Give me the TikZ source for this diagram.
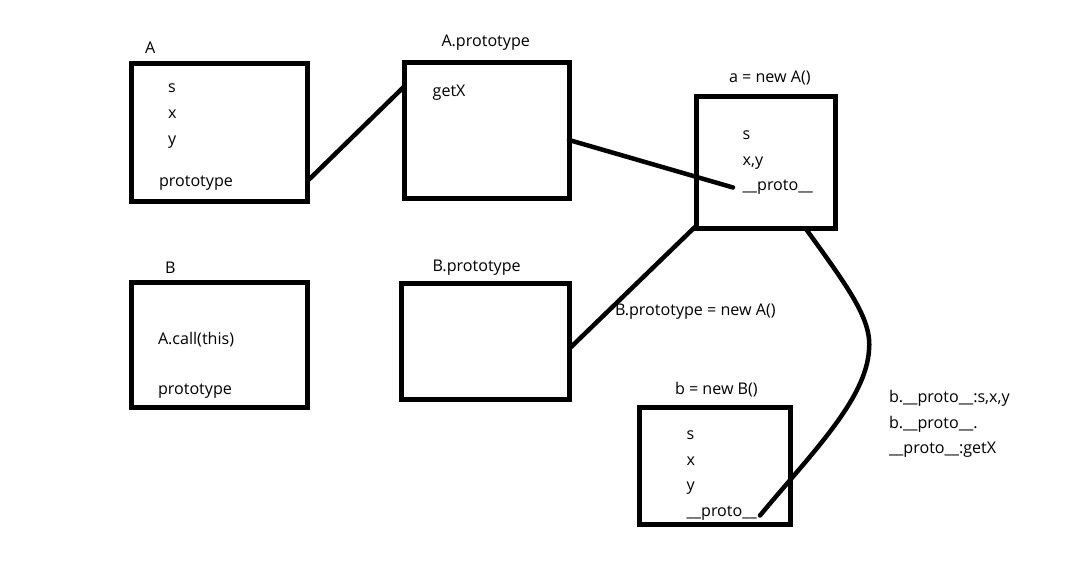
\documentclass[tikz,border=0pt]{standalone}
\usepackage{fontspec}
\setmainfont{Open Sans}
\usetikzlibrary{calc}
\begin{document}
\begin{tikzpicture}[x=1pt,y=-1pt,
  objbox/.style={draw=black,line width=5pt,rectangle,inner sep=0pt,outer sep=0pt,line join=miter},
  txt/.style={anchor=base west,inner sep=0pt,outer sep=0pt,font=\fontsize{16.1}{18}\selectfont},
  link/.style={line width=4.5pt,black}]
\path[use as bounding box,fill=white] (0,0) rectangle (1085,569);

% boxes
\node[objbox,minimum width=176.5pt,minimum height=138pt] (A) at (219.25,133) {};
\node[objbox,minimum width=164.3pt,minimum height=136.5pt] (Ap) at (486.85,130.75) {};
\node[objbox,minimum width=139pt,minimum height=132pt] (a) at (765.5,163) {};
\node[objbox,minimum width=175.8pt,minimum height=125pt] (B) at (219.6,345) {};
\node[objbox,minimum width=167.7pt,minimum height=116.7pt] (Bp) at (485.15,341.65) {};
\node[objbox,minimum width=151pt,minimum height=116.5pt] (b) at (714.5,465.75) {};

% titles
\node[txt] (tA) at (145,53.3) {A};
\node[txt] (tAp) at (441.5,46.7) {A.prototype};
\node[txt] (ta) at (729,82.7) {a = new A()};
\node[txt] (tB) at (165,273.3) {B};
\node[txt] (tBp) at (432.7,271.7) {B.prototype};
\node[txt] (tb) at (675,394.3) {b = new B()};

% contents of A
\node[txt] (As) at (168,92.5) {s};
\node[txt] (Ax) at (168,119) {x};
\node[txt] (Ay) at (168,145) {y};
\node[txt] (Aproto) at (159,186.7) {prototype};
% contents of A.prototype
\node[txt] (getX) at (432.7,96.7) {getX};
% contents of a
\node[txt] (as) at (742.7,139.3) {s};
\node[txt] (axy) at (742.7,166) {x,y};
\node[txt] (aproto) at (742.7,190.5) {\_\_proto\_\_};
% contents of B
\node[txt] (Bcall) at (158,344.3) {A.call(this)};
\node[txt] (Bproto) at (158,395) {prototype};
% contents of b
\node[txt] (bs) at (686.7,439.3) {s};
\node[txt] (bx) at (686.7,465) {x};
\node[txt] (by) at (686.7,490.5) {y};
\node[txt] (bproto) at (686.7,516.5) {\_\_proto\_\_};

% free labels
\node[txt] (lbl) at (615,316) {B.prototype = new A()};
\node[txt] (n1) at (889,402.7) {b.\_\_proto\_\_:s,x,y};
\node[txt] (n2) at (889,428.3) {b.\_\_proto\_\_.};
\node[txt] (n3) at (889,453.3) {\_\_proto\_\_:getX};

% connectors
\coordinate (adot) at (733,187.5);
\coordinate (bdot) at (760,515.5);
\draw[link] ([yshift=21pt]A.south east) -- ([yshift=-23.5pt]Ap.north west);
\draw[link,line cap=round] ([yshift=-77.5pt]Ap.north east) -- (adot);
\draw[link] ([yshift=-65.7pt]Bp.north east) -- ([yshift=3pt]a.south west);
\draw[link,line cap=round] ([xshift=40.5pt]a.south) .. controls (850,290) and (872,320) .. (869,350)
  .. controls (866,400) and (810,455) .. (bdot);
\end{tikzpicture}
\end{document}
